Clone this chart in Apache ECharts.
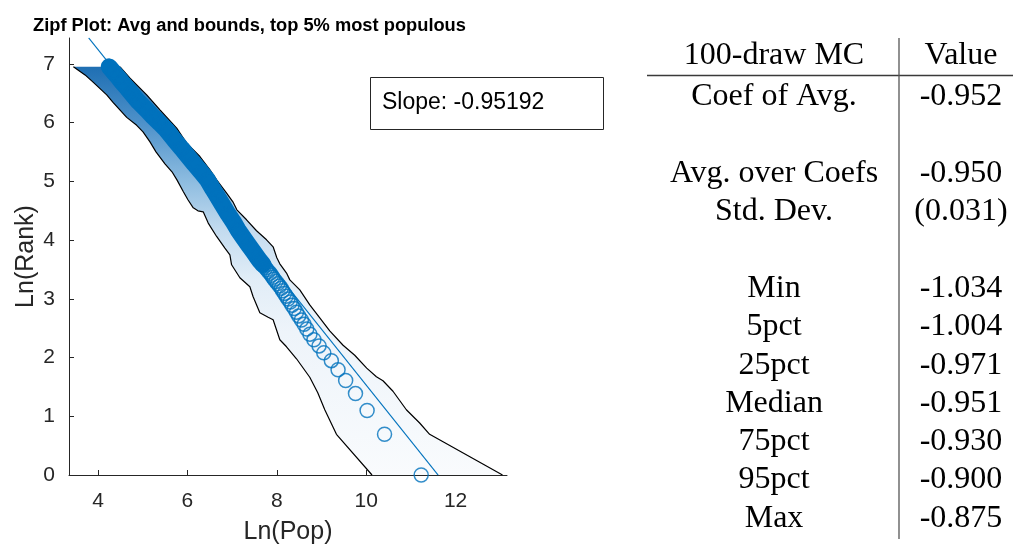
<!DOCTYPE html>
<html>
<head>
<meta charset="utf-8">
<script src="https://cdn.jsdelivr.net/npm/echarts@6/dist/echarts.min.js"></script>
<style>
  html, body { margin: 0; padding: 0; background: #fff; }
  #main { width: 1013px; height: 550px; }
</style>
</head>
<body>
<div id="main"></div>
<script>
// Average of the simulated city-size distributions: rank and ln(population)
const ranks = [1, 2, 3, 4, 5, 6, 7, 8, 9, 10, 11, 12, 13, 14, 15, 16, 17, 18, 19, 20,
  21, 22, 23, 24, 25, 26, 27, 28, 29, 30, 31, 32, 33, 34, 35, 36, 38, 40, 45, 50,
  57, 65, 75, 85, 100, 115, 130, 152, 175, 200, 230, 260, 300, 356, 400, 450, 500,
  577, 650, 720, 800, 880, 960, 1042];
const lnPop = [11.23, 10.41, 10.02, 9.76, 9.54, 9.37, 9.22, 9.05, 8.945, 8.83, 8.74,
  8.67, 8.61, 8.55, 8.49, 8.44, 8.39, 8.34, 8.30, 8.25, 8.21, 8.17, 8.13, 8.10, 8.06,
  8.02, 7.98, 7.94, 7.91, 7.88, 7.85, 7.81, 7.78, 7.75, 7.72, 7.69, 7.63, 7.58, 7.47,
  7.37, 7.25, 7.13, 7.02, 6.91, 6.78, 6.67, 6.57, 6.45, 6.30, 6.15, 6.00, 5.87, 5.71,
  5.53, 5.38, 5.22, 5.09, 4.90, 4.77, 4.66, 4.54, 4.44, 4.34, 4.25];

// Lower and upper bounds over the draws: [ln(pop), ln(rank)]
const lowerBound = [[3.448, 6.95], [3.709, 6.812], [3.895, 6.685], [4.194, 6.472],
  [4.335, 6.344], [4.641, 6.089], [4.865, 5.953], [5.006, 5.843], [5.162, 5.672],
  [5.296, 5.502], [5.497, 5.298], [5.654, 5.162], [5.765, 5.025], [5.906, 4.826],
  [6.011, 4.686], [6.130, 4.549], [6.235, 4.498], [6.353, 4.481], [6.465, 4.289],
  [6.653, 4.061], [6.838, 3.863], [6.950, 3.749], [6.988, 3.579], [7.173, 3.358],
  [7.397, 3.205], [7.470, 3.034], [7.620, 2.762], [7.806, 2.686], [7.917, 2.643],
  [8.067, 2.303], [8.217, 2.183], [8.440, 1.979], [8.737, 1.664], [8.916, 1.401],
  [9.073, 1.112], [9.334, 0.693], [10.13, 0]];
const upperBound = [[4.492, 6.95], [4.715, 6.756], [5.088, 6.472], [5.385, 6.217],
  [5.759, 5.905], [5.982, 5.650], [6.279, 5.422], [6.503, 5.196], [6.653, 5.025],
  [6.876, 4.799], [7.017, 4.651], [7.106, 4.515], [7.323, 4.345], [7.546, 4.158],
  [7.770, 4.004], [7.917, 3.885], [8.000, 3.698], [8.067, 3.596], [8.217, 3.438],
  [8.291, 3.322], [8.514, 3.152], [8.737, 2.896], [8.961, 2.675], [9.184, 2.455],
  [9.482, 2.209], [9.743, 2.039], [10.011, 1.820], [10.228, 1.673], [10.375, 1.605],
  [10.599, 1.426], [10.898, 1.111], [11.196, 0.885], [11.419, 0.693], [13.05, 0]];

// OLS fit of ln(rank) on ln(pop)
const fitSlope = -0.95192;
const fitIntercept = 11.05;
const fitXRange = [3.79, 11.61];

const xTicks = [4, 6, 8, 10, 12];
const yTicks = [0, 1, 2, 3, 4, 5, 6, 7];

// Monte Carlo summary table
const tableHeader = ['100-draw MC', 'Value'];
const tableLabels = ['Coef of Avg.', '', 'Avg. over Coefs', 'Std. Dev.', '', 'Min', '5pct',
  '25pct', 'Median', '75pct', '95pct', 'Max'];
const tableValues = ['-0.952', '', '-0.950', '(0.031)', '', '-1.034', '-1.004', '-0.971',
  '-0.951', '-0.930', '-0.900', '-0.875'];

// ---------------------------------------------------------------------------
const BLUE = '#0072BD';
const AXIS = '#262626';
const SANS = '"Liberation Sans", Arial, Helvetica, sans-serif';
const SERIF = '"Liberation Serif", "Times New Roman", serif';

const points = ranks.map((r, i) => [lnPop[i], Math.log(r)]);
const bandStartRank = 36;
const bandPoints = points.filter((p, i) => ranks[i] >= bandStartRank);
const fitLine = fitXRange.map(x => [x, fitIntercept + fitSlope * x]);

// table drawn as graphic text
const colLabelX = 774, colValueX = 961;
const headerY = 56, firstRowY = 97, rowStep = 38.3;
const tableFont = '32px ' + SERIF;
const textStyle = (text) => ({ text, font: tableFont, fill: '#000', align: 'center', verticalAlign: 'middle' });
const tableGraphics = [];
tableGraphics.push({ type: 'text', x: colLabelX, y: headerY, style: textStyle(tableHeader[0]) });
tableGraphics.push({ type: 'text', x: colValueX, y: headerY, style: textStyle(tableHeader[1]) });
tableLabels.forEach((lab, i) => {
  const y = firstRowY + i * rowStep;
  if (lab) tableGraphics.push({ type: 'text', x: colLabelX, y, style: textStyle(lab) });
  if (tableValues[i]) tableGraphics.push({ type: 'text', x: colValueX, y, style: textStyle(tableValues[i]) });
});
tableGraphics.push({ type: 'line', shape: { x1: 647, y1: 75.5, x2: 1013, y2: 75.5 },
  style: { stroke: '#3a3a3a', lineWidth: 1.3 } });
tableGraphics.push({ type: 'line', shape: { x1: 899, y1: 38, x2: 899, y2: 539 },
  style: { stroke: '#555', lineWidth: 1.3 } });

// slope annotation box
const slopeBox = [
  { type: 'rect', shape: { x: 370.5, y: 77.5, width: 233, height: 52 },
    style: { fill: '#fff', stroke: AXIS, lineWidth: 1 }, z: 10 },
  { type: 'text', x: 382, y: 103, z: 11,
    style: { text: 'Slope: ' + fitSlope, font: '23px ' + SANS, fill: '#000', align: 'left', verticalAlign: 'middle' } }
];

const chart = echarts.init(document.getElementById('main'), null, { renderer: 'canvas' });
chart.setOption({
  animation: false,
  backgroundColor: '#fff',
  title: {
    text: 'Zipf Plot: Avg and bounds, top 5% most populous',
    left: 28, top: 12,
    textStyle: { fontFamily: SANS, fontSize: 18.3, fontWeight: 'bold', color: '#000' }
  },
  grid: { left: 69, right: 506, top: 38, bottom: 75 },
  xAxis: {
    type: 'value', min: 3.35, max: 13.15,
    name: 'Ln(Pop)', nameLocation: 'middle', nameGap: 45,
    nameTextStyle: { fontFamily: SANS, fontSize: 25, color: AXIS },
    axisLine: { show: true, onZero: false, lineStyle: { color: AXIS, width: 1 } },
    axisTick: { show: true, inside: true, length: 5, customValues: xTicks, lineStyle: { color: AXIS } },
    axisLabel: { customValues: xTicks, fontFamily: SANS, fontSize: 21, color: AXIS, margin: 16 },
    splitLine: { show: false }
  },
  yAxis: {
    type: 'value', min: 0, max: 7.44,
    name: 'Ln(Rank)', nameLocation: 'middle', nameGap: 30,
    nameTextStyle: { fontFamily: SANS, fontSize: 25, color: AXIS },
    axisLine: { show: true, onZero: false, lineStyle: { color: AXIS, width: 1 } },
    axisTick: { show: true, inside: true, length: 5, customValues: yTicks, lineStyle: { color: AXIS } },
    axisLabel: { customValues: yTicks, fontFamily: SANS, fontSize: 21, color: AXIS, margin: 14 },
    splitLine: { show: false }
  },
  series: [
    {
      // shaded region between the bounds
      type: 'custom', z: 1, silent: true, clip: false,
      data: [lowerBound[0]],
      renderItem: (params, api) => {
        const pts = lowerBound.map(p => api.coord(p))
          .concat(upperBound.slice().reverse().map(p => api.coord(p)));
        return {
          type: 'polygon',
          shape: { points: pts },
          style: {
            fill: new echarts.graphic.LinearGradient(0, 0, 0, 1, [
              { offset: 0, color: '#1f6fb3' },
              { offset: 0.14, color: '#4f92ca' },
              { offset: 0.28, color: '#8dbce0' },
              { offset: 0.40, color: '#c3dbef' },
              { offset: 0.52, color: '#e1edf7' },
              { offset: 0.65, color: '#eef4fa' },
              { offset: 1, color: '#f9fbfd' }
            ])
          }
        };
      }
    },
    {
      type: 'line', z: 2, silent: true, data: lowerBound, showSymbol: false,
      lineStyle: { color: '#000', width: 1.2 }
    },
    {
      type: 'line', z: 2, silent: true, data: upperBound, showSymbol: false,
      lineStyle: { color: '#000', width: 1.2 }
    },
    {
      // densely packed markers at the high ranks
      type: 'line', z: 3, silent: true, data: bandPoints, showSymbol: false,
      lineStyle: { color: BLUE, width: 17, cap: 'round', join: 'round' }
    },
    {
      type: 'scatter', z: 4, silent: true, data: points, symbol: 'circle', symbolSize: 14,
      itemStyle: { color: 'rgba(0,0,0,0)', borderColor: BLUE, borderWidth: 1.5 }
    },
    {
      type: 'line', z: 5, silent: true, data: fitLine, showSymbol: false,
      lineStyle: { color: BLUE, width: 1.1 }
    }
  ],
  graphic: tableGraphics.concat(slopeBox)
});
</script>
</body>
</html>
